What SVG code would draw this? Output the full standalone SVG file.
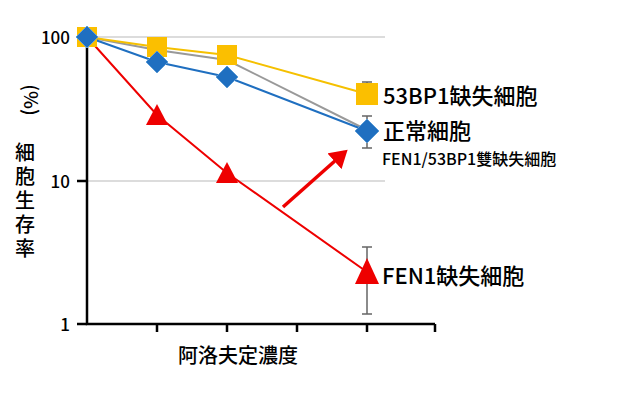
<svg xmlns="http://www.w3.org/2000/svg" width="624" height="400" viewBox="0 0 624 400">
<style>
.t{font-family:"Noto Sans CJK JP","Noto Sans",sans-serif;fill:#000;font-weight:500}
.g{stroke:#d0d0d0;stroke-width:1.5}
.ax{stroke:#000;stroke-width:2.5;fill:none}
.eb{stroke:#666;stroke-width:1.5}
</style>
<defs><marker id="ah" markerWidth="6" markerHeight="6" refX="4" refY="3" orient="auto" markerUnits="strokeWidth"><path d="M0,0 L5,3 L0,6 Z" fill="#e00"/></marker></defs>
<rect width="624" height="400" fill="#fff"/>
<g id="grid"><line class="g" x1="87" y1="37" x2="385" y2="37"/><line class="g" x1="87" y1="181" x2="385" y2="181"/></g>
<g id="axes">
<path class="ax" d="M87,37 V324 H435"/>
<path class="ax" d="M77,37 H87 M77,181 H87 M77,324 H87 M157,324 V332 M227,324 V332 M297,324 V332 M367,324 V332 M435,324 V332"/>
<text class="t" x="70" y="44" font-size="17" text-anchor="end">100</text>
<text class="t" x="70" y="188" font-size="17" text-anchor="end">10</text>
<text class="t" x="70" y="331" font-size="17" text-anchor="end">1</text>
<text class="t" x="238" y="363" font-size="20" text-anchor="middle">阿洛夫定濃度</text>
<text class="t" font-size="19" transform="translate(24,100) rotate(90)" text-anchor="middle">(%)</text>
<text class="t" font-size="20" x="25" y="142" writing-mode="vertical-rl" letter-spacing="4">細胞生存率</text>
</g>
<g id="connectors" fill="none" stroke-width="2">
<path d="M367,82 V100 M362,82 H372 M362,100 H372" class="eb"/>
<path d="M367,116 V148 M362,116 H372 M362,148 H372" class="eb"/>
<path d="M367,247 V314 M362,247 H372 M362,314 H372" class="eb"/>
<polyline points="87,37 157,50 227,60 367,130" stroke="#999"/>
<polyline points="87,37 157,47 227,55 367,94" stroke="#f5c000"/>
<polyline points="87,37 157,62 227,77 367,131" stroke="#1f6fc0"/>
<polyline points="87,37 157,115 227,173 367,272" stroke="#e00"/>
<line x1="283" y1="207" x2="345" y2="152" stroke="#e00" stroke-width="3.5" marker-end="url(#ah)"/>
</g>
<g id="yellow" fill="#fbbf00"><rect x="77" y="27" width="20" height="20"/><rect x="147" y="37" width="20" height="20"/><rect x="217" y="45" width="20" height="20"/><rect x="356" y="83" width="22" height="22"/></g>
<g id="red" fill="#e00"><path d="M157,104 L168,125 L146,125 Z"/><path d="M227,162 L238,183 L216,183 Z"/><path d="M367,258 L379,284 L355,284 Z"/></g>
<g id="blue" fill="#1f6fc0" stroke="#5b9bd5"><path d="M87,26 L98,37 L87,48 L76,37 Z"/><path d="M157,51 L168,62 L157,73 L146,62 Z"/><path d="M227,66 L238,77 L227,88 L216,77 Z"/><path d="M367,119 L379,131 L367,143 L355,131 Z"/></g>
<g id="labels">
<text class="t" x="383" y="104" font-size="22">53BP1缺失細胞</text>
<text class="t" x="383" y="139" font-size="22">正常細胞</text>
<text class="t" x="382" y="165" font-size="16">FEN1/53BP1雙缺失細胞</text>
<text class="t" x="382" y="284" font-size="22">FEN1缺失細胞</text>
</g>
</svg>
